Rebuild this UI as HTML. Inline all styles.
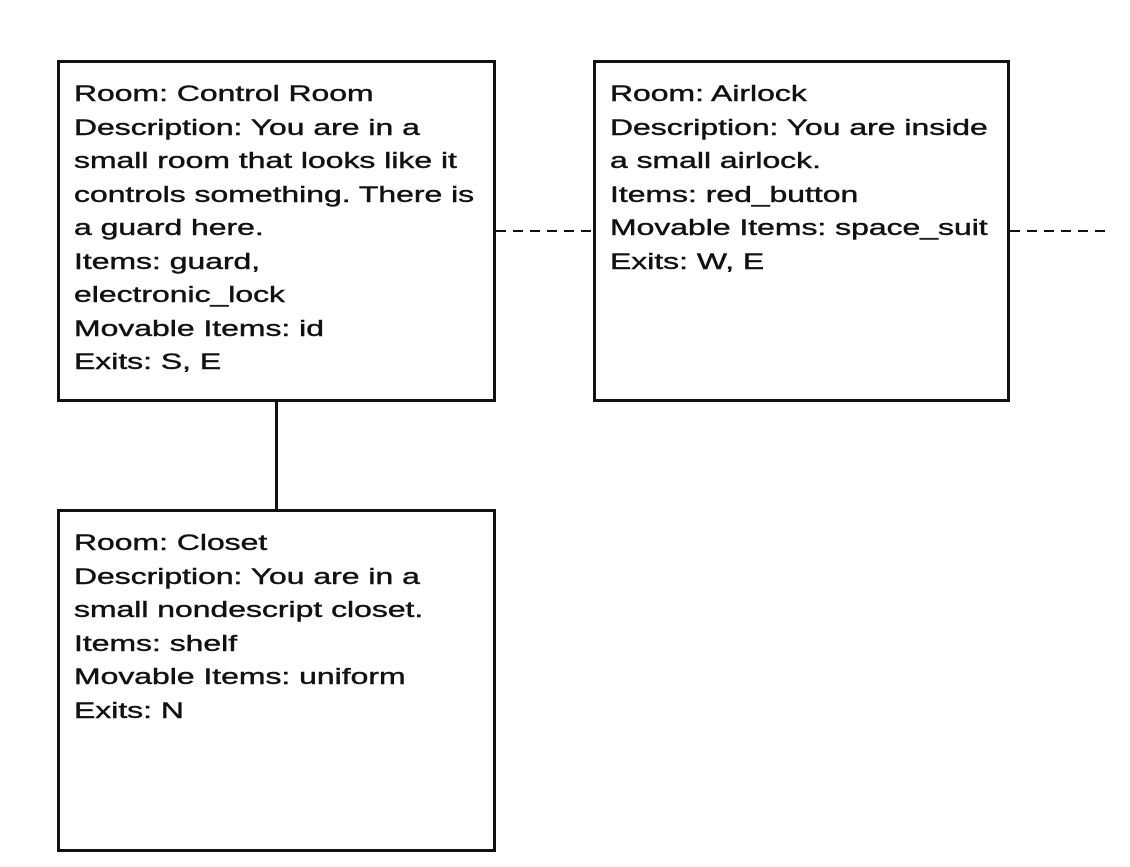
<!DOCTYPE html>
<html><head><meta charset="utf-8"><style>
html,body{margin:0;padding:0;background:#fff;}
body{width:1130px;height:867px;position:relative;overflow:hidden;font-family:"Liberation Sans",sans-serif;}
.box{position:absolute;border:3px solid #111;box-sizing:border-box;}
.t{position:absolute;font-size:22px;line-height:33.5px;color:#111;white-space:pre;transform:scaleX(1.45);transform-origin:0 0;-webkit-text-stroke:0.4px #111;}
.l{position:absolute;background:#111;}
</style></head><body>
<div class="box" style="left:57px;top:60px;width:439px;height:342px"></div>
<div class="box" style="left:593px;top:60px;width:417px;height:342px"></div>
<div class="box" style="left:57px;top:509px;width:439px;height:343px"></div>
<div class="l" style="left:275px;top:401px;width:3px;height:109px"></div>
<svg style="position:absolute;left:0;top:0" width="1130" height="867">
<line x1="496" y1="231" x2="593" y2="231" stroke="#111" stroke-width="2" stroke-dasharray="10,7"/>
<line x1="1010" y1="231" x2="1110" y2="231" stroke="#111" stroke-width="2" stroke-dasharray="10,7"/>
</svg>
<div class="t" style="left:74px;top:77px">Room: Control Room
Description: You are in a
small room that looks like it
controls something. There is
a guard here.
Items: guard,
electronic_lock
Movable Items: id
Exits: S, E</div>
<div class="t" style="left:610px;top:77px">Room: Airlock
Description: You are inside
a small airlock.
Items: red_button
Movable Items: space_suit
Exits: W, E</div>
<div class="t" style="left:74px;top:526px">Room: Closet
Description: You are in a
small nondescript closet.
Items: shelf
Movable Items: uniform
Exits: N</div>
</body></html>
